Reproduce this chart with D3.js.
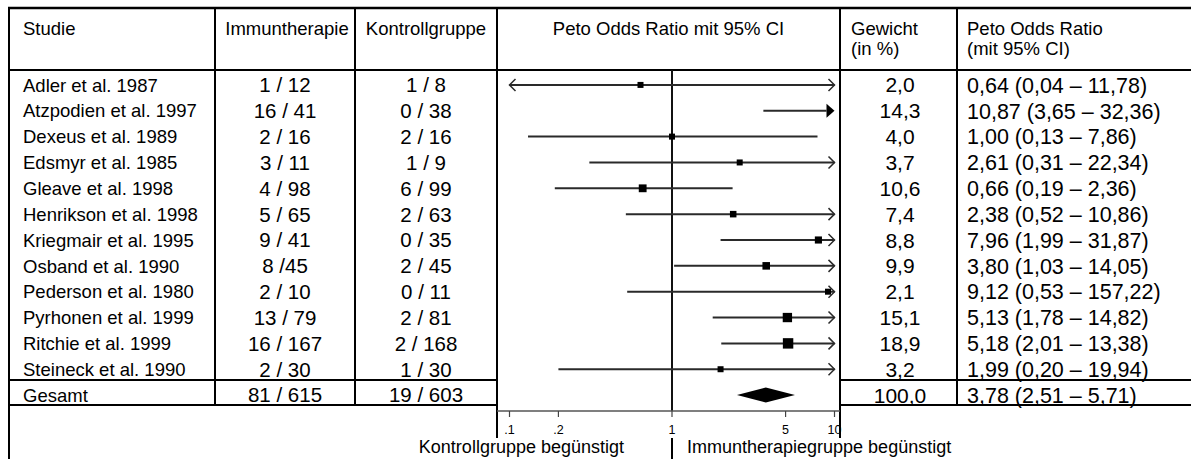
<!DOCTYPE html>
<html>
<head>
<meta charset="utf-8">
<script src="https://cdn.jsdelivr.net/npm/d3@7"></script>
<style>
  body { margin: 0; background: #fff; }
  svg { display: block; }
  text { font-family: "Liberation Sans", Arial, sans-serif; fill: #000; }
</style>
</head>
<body>
<svg id="chart" width="1191" height="459"></svg>
<script>
// Einzelstudien
const studies = [
  "Adler et al. 1987", "Atzpodien et al. 1997", "Dexeus et al. 1989", "Edsmyr et al. 1985",
  "Gleave et al. 1998", "Henrikson et al. 1998", "Kriegmair et al. 1995", "Osband et al. 1990",
  "Pederson et al. 1980", "Pyrhonen et al. 1999", "Ritchie et al. 1999", "Steineck et al. 1990"
];
const immunEvents   = ["1 / 12", "16 / 41", "2 / 16", "3 / 11", "4 / 98", "5 / 65", "9 / 41", "8 /45", "2 / 10", "13 / 79", "16 / 167", "2 / 30"];
const kontrollEvents = ["1 / 8", "0 / 38", "2 / 16", "1 / 9", "6 / 99", "2 / 63", "0 / 35", "2 / 45", "0 / 11", "2 / 81", "2 / 168", "1 / 30"];
const weights = [2.0, 14.3, 4.0, 3.7, 10.6, 7.4, 8.8, 9.9, 2.1, 15.1, 18.9, 3.2];
const orEst = [0.64, 10.87, 1.00, 2.61, 0.66, 2.38, 7.96, 3.80, 9.12, 5.13, 5.18, 1.99];
const orLow = [0.04, 3.65, 0.13, 0.31, 0.19, 0.52, 1.99, 1.03, 0.53, 1.78, 2.01, 0.20];
const orHigh = [11.78, 32.36, 7.86, 22.34, 2.36, 10.86, 31.87, 14.05, 157.22, 14.82, 13.38, 19.94];

// Gepoolter Effekt
const totalLabel = "Gesamt";
const totalImmun = "81 / 615";
const totalKontroll = "19 / 603";
const totalWeight = 100.0;
const totalOR = [3.78, 2.51, 5.71];

// Achse
const tickValues = [0.1, 0.2, 1, 5, 10];
const tickLabels = [".1", ".2", "1", "5", "10"];

const de = d3.formatLocale({ decimal: ",", thousands: ".", grouping: [3], currency: ["", " €"] });
const f2 = de.format(".2f"), f1 = de.format(".1f");
const orText = (e, l, h) => `${f2(e)} (${f2(l)} – ${f2(h)})`;

const svg = d3.select("#chart");
const W = 1191, H = 459;

// Spaltengrenzen der Tabelle
const colX = { left: 9, c1: 215, c2: 355, plotL: 497, plotR: 840, c5: 957, right: W };
const yTop = 8, yHead = 70, yTotTop = 380, yTotBot = 405, yPlotBot = 438;

const rows = studies.concat([totalLabel]);
const y = d3.scaleBand().domain(rows).range([72, 408]);
const cy = d => y(d) + y.bandwidth() / 2;

const x = d3.scaleLog().domain([0.1, 10]).range([509.5, 834.5]);
const [xMin, xMax] = x.domain();

const ink = "#000";
const lines = svg.append("g").attr("stroke", ink).attr("stroke-width", 2).attr("fill", "none");
const hline = (x1, x2, yy, w = 2) => lines.append("line").attr("x1", x1).attr("x2", x2).attr("y1", yy).attr("y2", yy).attr("stroke-width", w);
const vline = (xx, y1, y2, w = 2) => lines.append("line").attr("x1", xx).attr("x2", xx).attr("y1", y1).attr("y2", y2).attr("stroke-width", w);

// Rahmen
hline(colX.left - 1, W, yTop, 2.5);
hline(colX.left - 1, W, yHead);
hline(colX.left - 1, colX.plotL, yTotTop);
hline(colX.plotR, W, yTotTop);
hline(colX.left - 1, colX.plotL, yTotBot);
hline(colX.plotR, W, yTotBot);
vline(colX.left, yTop - 1, H);
vline(colX.c1, yTop, yTotBot);
vline(colX.c2, yTop, yTotBot);
vline(colX.plotL, yTop, yPlotBot);
vline(colX.plotR, yTop, yPlotBot);
vline(colX.c5, yTop, yTotBot);
vline(x(1), yPlotBot, H);

// Kopfzeile
const head = svg.append("g").attr("font-size", 18.5);
head.append("text").attr("x", 23).attr("y", 35).text("Studie");
head.append("text").attr("x", (colX.c1 + colX.c2) / 2 + 2).attr("y", 35).attr("text-anchor", "middle").text("Immuntherapie");
head.append("text").attr("x", (colX.c2 + colX.plotL) / 2).attr("y", 35).attr("text-anchor", "middle").text("Kontrollgruppe");
head.append("text").attr("x", (colX.plotL + colX.plotR) / 2).attr("y", 35).attr("text-anchor", "middle").text("Peto Odds Ratio mit 95% CI");
head.append("text").attr("x", 851).attr("y", 35).text("Gewicht");
head.append("text").attr("x", 851).attr("y", 55).text("(in %)");
head.append("text").attr("x", 967).attr("y", 35).text("Peto Odds Ratio");
head.append("text").attr("x", 967).attr("y", 55).text("(mit 95% CI)");

// Tabellenzeilen
const tbl = svg.append("g");
const rowData = studies.map((s, i) => ({
  name: s, im: immunEvents[i], ko: kontrollEvents[i], w: weights[i],
  est: orEst[i], lo: orLow[i], hi: orHigh[i]
}));
const allRows = rowData.concat([{
  name: totalLabel, im: totalImmun, ko: totalKontroll, w: totalWeight,
  est: totalOR[0], lo: totalOR[1], hi: totalOR[2], total: true
}]);

tbl.selectAll("text.name").data(allRows).join("text").attr("class", "name")
  .attr("x", 23).attr("y", d => cy(d.name)).attr("dy", "0.36em").attr("font-size", 18.5).text(d => d.name);
tbl.selectAll("text.im").data(allRows).join("text").attr("class", "im")
  .attr("x", (colX.c1 + colX.c2) / 2).attr("y", d => cy(d.name)).attr("dy", "0.36em")
  .attr("text-anchor", "middle").attr("font-size", 20.5).text(d => d.im);
tbl.selectAll("text.ko").data(allRows).join("text").attr("class", "ko")
  .attr("x", (colX.c2 + colX.plotL) / 2).attr("y", d => cy(d.name)).attr("dy", "0.36em")
  .attr("text-anchor", "middle").attr("font-size", 20.5).text(d => d.ko);
tbl.selectAll("text.w").data(allRows).join("text").attr("class", "w")
  .attr("x", 900).attr("y", d => cy(d.name)).attr("dy", "0.36em")
  .attr("text-anchor", "middle").attr("font-size", 21).text(d => f1(d.w));
tbl.selectAll("text.or").data(allRows).join("text").attr("class", "or")
  .attr("x", 967).attr("y", d => cy(d.name)).attr("dy", "0.36em")
  .attr("font-size", 21.5).text(d => orText(d.est, d.lo, d.hi));

// Forest Plot
const plot = svg.append("g");
plot.append("line").attr("x1", x(1)).attr("x2", x(1)).attr("y1", yHead).attr("y2", 411)
  .attr("stroke", "#111").attr("stroke-width", 2);

const ci = plot.append("g").attr("stroke", "#2a2a2a").attr("stroke-width", 2).attr("fill", "none");
const clamp = v => Math.max(xMin, Math.min(xMax, v));
const side = w => Math.max(6, 2.4 * Math.sqrt(w));

rowData.forEach(d => {
  const yy = cy(d.name);
  const x1 = x(clamp(d.lo));
  const estOut = d.est > xMax;
  const x2 = estOut ? x(xMax) - 8 : x(clamp(d.hi));
  ci.append("line").attr("x1", x1).attr("x2", x2).attr("y1", yy).attr("y2", yy);
  if (d.lo < xMin) {
    ci.append("path").attr("d", `M${x1 + 6},${yy - 6} L${x1},${yy} L${x1 + 6},${yy + 6}`).attr("stroke-width", 1.5);
  }
  if (estOut) {
    plot.append("path").attr("fill", "#000")
      .attr("d", `M${x(xMax) - 8},${yy - 7} L${x(xMax)},${yy} L${x(xMax) - 8},${yy + 7} Z`);
  } else {
    if (d.hi > xMax) {
      const xe = x(xMax);
      ci.append("path").attr("d", `M${xe - 6},${yy - 6} L${xe},${yy} L${xe - 6},${yy + 6}`).attr("stroke-width", 1.5);
    }
    const s = side(d.w);
    plot.append("rect").attr("x", x(d.est) - s / 2).attr("y", yy - s / 2)
      .attr("width", s).attr("height", s).attr("fill", "#000");
  }
});

// Gepoolter Effekt als Raute
const ty = cy(totalLabel);
plot.append("path").attr("fill", "#000")
  .attr("d", `M${x(totalOR[1])},${ty} L${x(totalOR[0])},${ty - 7.5} L${x(totalOR[2])},${ty} L${x(totalOR[0])},${ty + 7.5} Z`);

// x-Achse
const axisY = 411;
plot.append("line").attr("x1", colX.plotL).attr("x2", colX.plotR).attr("y1", axisY).attr("y2", axisY)
  .attr("stroke", "#555").attr("stroke-width", 1.5);
const ticks = plot.append("g");
ticks.selectAll("line").data(tickValues).join("line")
  .attr("x1", d => x(d)).attr("x2", d => x(d)).attr("y1", axisY).attr("y2", axisY + 6)
  .attr("stroke", "#444").attr("stroke-width", 1.2);
ticks.selectAll("text").data(tickValues).join("text")
  .attr("x", d => x(d)).attr("y", 434).attr("text-anchor", "middle")
  .attr("font-family", "'Liberation Sans Narrow', 'DejaVu Sans Condensed', sans-serif")
  .attr("font-size", 12.5).text((d, i) => tickLabels[i]);

// Beschriftung unter der Achse
svg.append("text").attr("x", x(1) - 48).attr("y", 453).attr("text-anchor", "end").attr("font-size", 18)
  .text("Kontrollgruppe begünstigt");
svg.append("text").attr("x", x(1) + 15).attr("y", 453).attr("font-size", 18)
  .text("Immuntherapiegruppe begünstigt");
</script>
</body>
</html>
